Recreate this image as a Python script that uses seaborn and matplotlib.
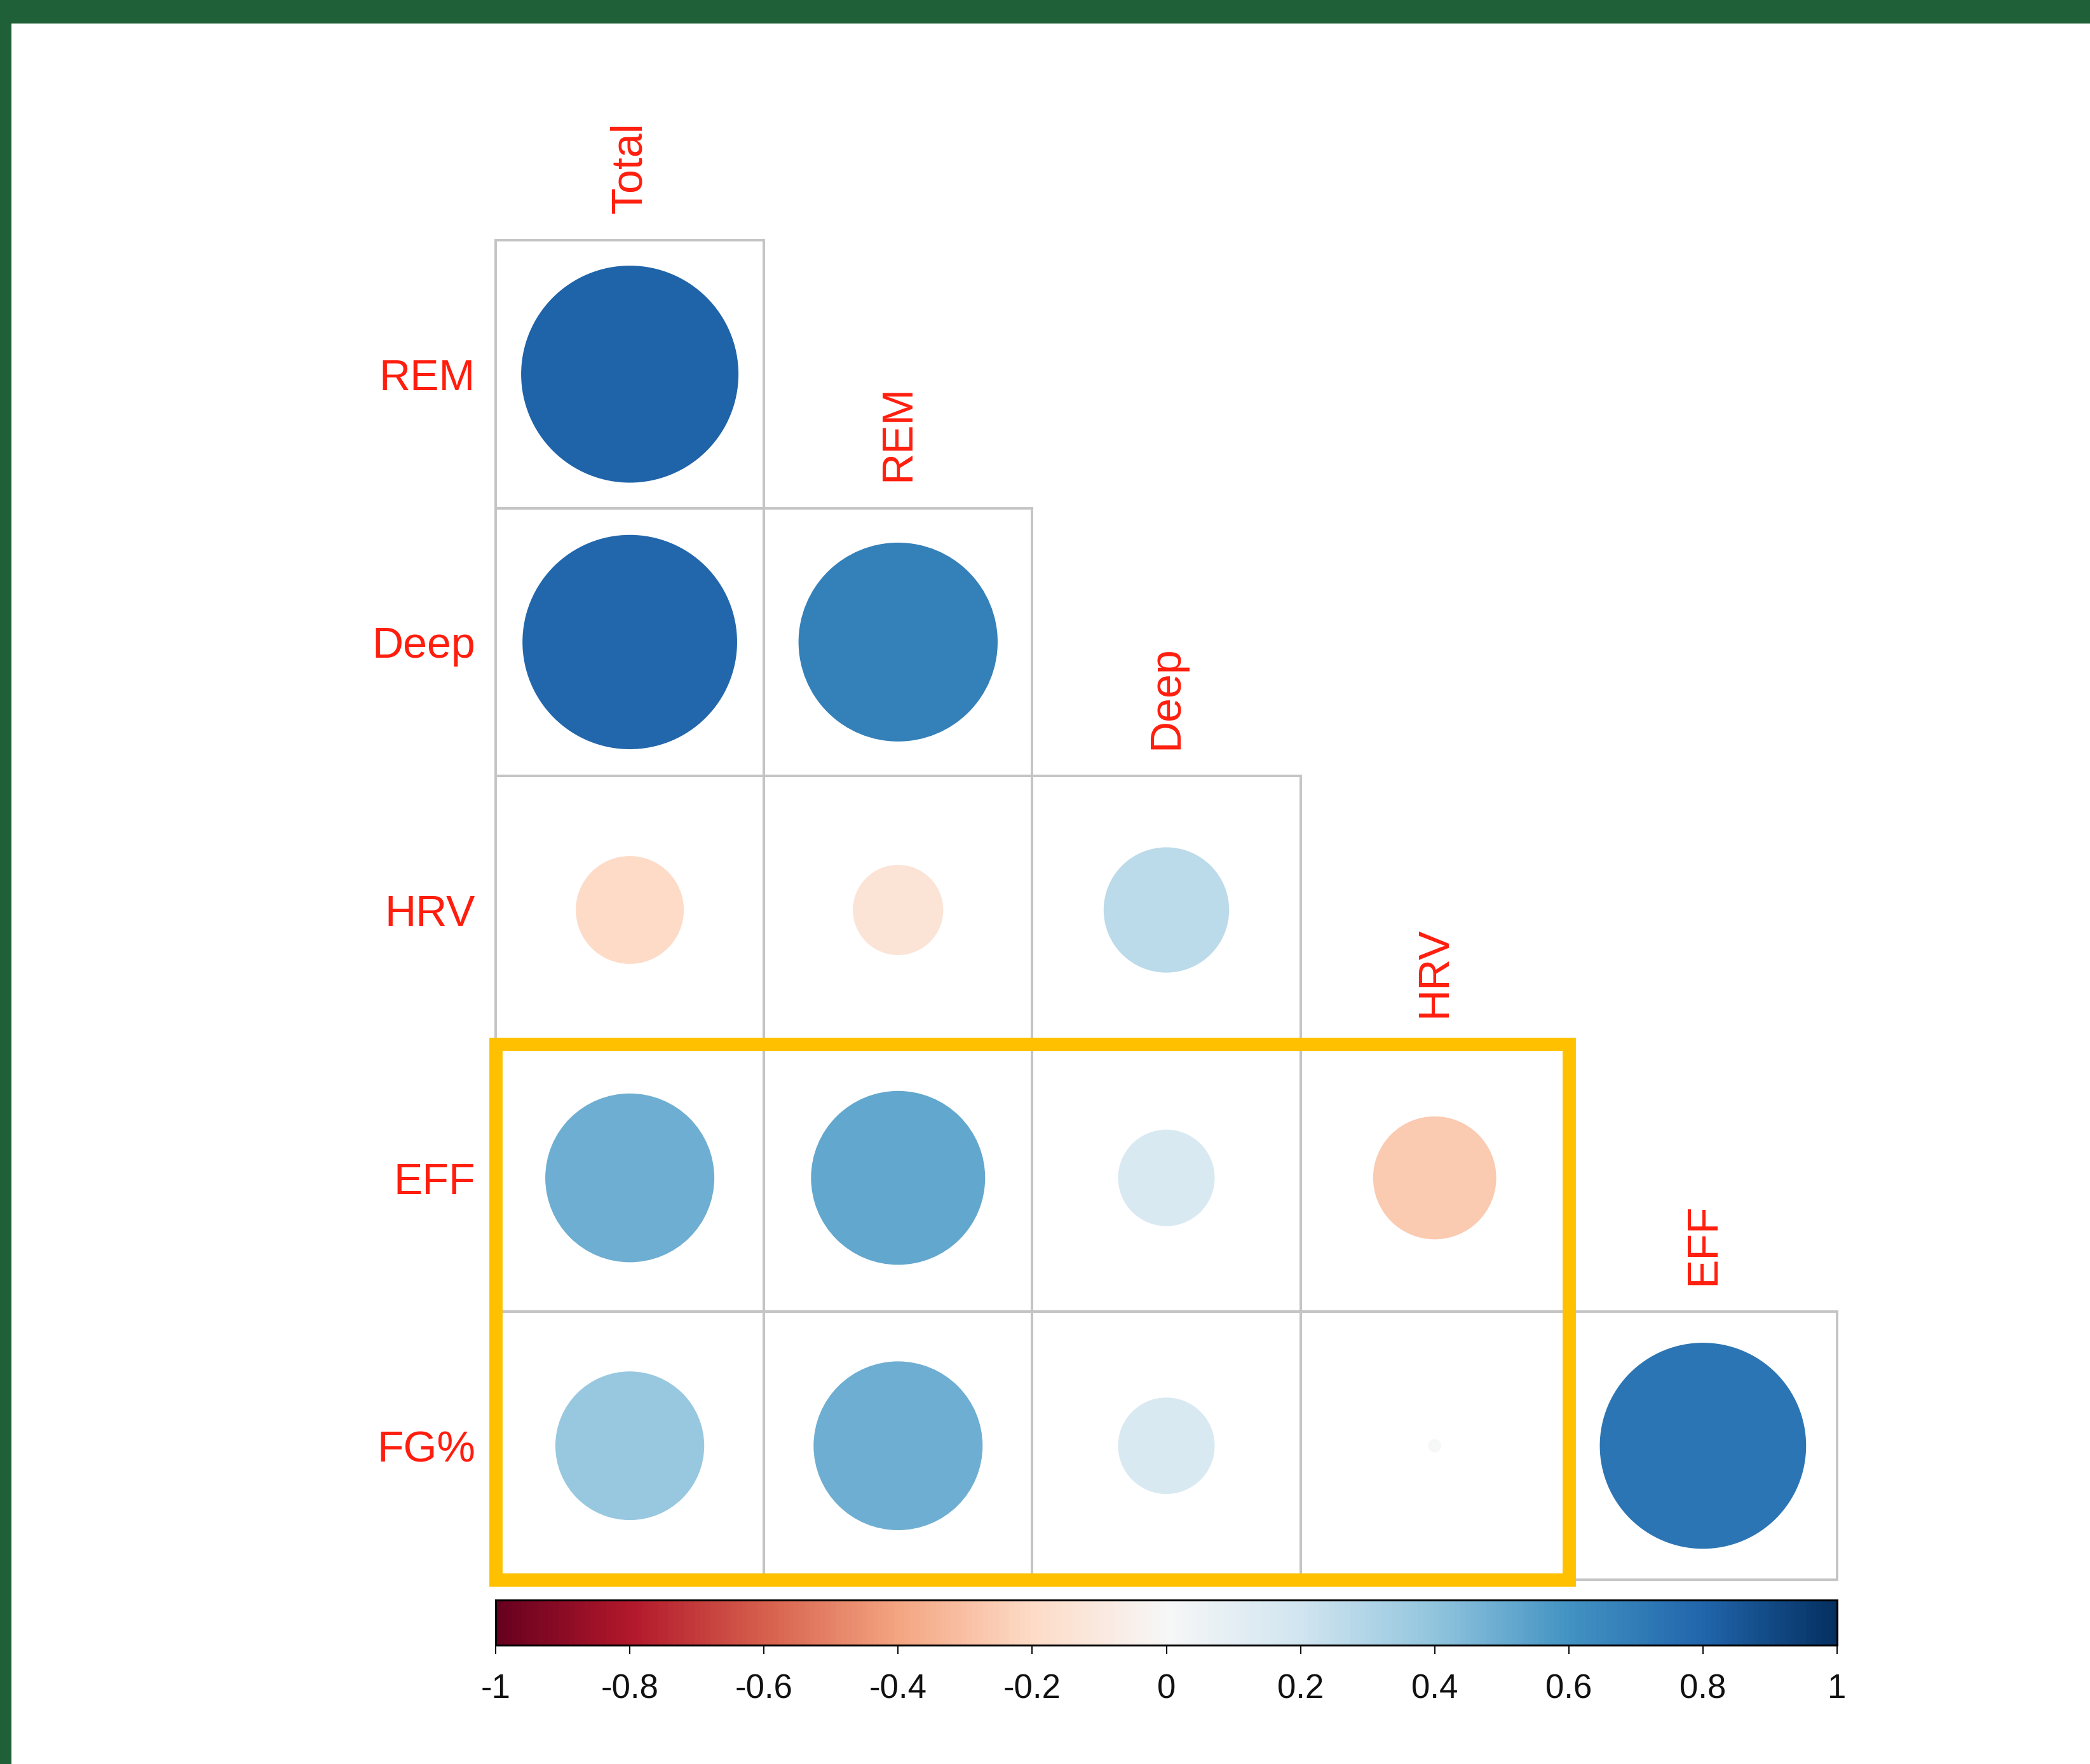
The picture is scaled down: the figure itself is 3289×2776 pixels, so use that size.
import numpy as np
import pandas as pd
import matplotlib
matplotlib.use("Agg")
import matplotlib.pyplot as plt
from matplotlib.colors import ListedColormap, Normalize
from matplotlib.patches import Circle, Rectangle
import seaborn as sns

# ---- data ----
row_labels = ["REM", "Deep", "HRV", "EFF", "FG%"]
col_labels = ["Total", "REM", "Deep", "HRV", "EFF"]
r_rem = [0.81, np.nan, np.nan, np.nan, np.nan]
r_deep = [0.79, 0.68, np.nan, np.nan, np.nan]
r_hrv = [-0.20, -0.14, 0.27, np.nan, np.nan]
r_eff = [0.49, 0.52, 0.16, -0.26, np.nan]
r_fg = [0.38, 0.49, 0.16, 0.003, 0.73]
cbar_ticks = [-1, -0.8, -0.6, -0.4, -0.2, 0, 0.2, 0.4, 0.6, 0.8, 1]
cbar_ticklabels = ["-1", "-0.8", "-0.6", "-0.4", "-0.2", "0", "0.2", "0.4", "0.6", "0.8", "1"]

corr = pd.DataFrame([r_rem, r_deep, r_hrv, r_eff, r_fg], index=row_labels, columns=col_labels)

sns.set_theme(style="white")
plt.rcParams["font.family"] = ["Liberation Sans", "DejaVu Sans"]

W, H = 3289, 2776
DPI = 100
fig = plt.figure(figsize=(W / DPI, H / DPI), dpi=DPI, facecolor="white")

def fx(px):
    return px / W

def fy(py):
    return 1 - py / H

# grid axes
gx0, gx1, gy0, gy1 = 780, 2891, 378, 2486
ax = fig.add_axes([fx(gx0), fy(gy1), fx(gx1 - gx0), (gy1 - gy0) / H])
mask = corr.isna()
sns.heatmap(corr.notna().astype(float), mask=mask, cmap=ListedColormap(["white"]), cbar=False,
            linewidths=0, ax=ax, xticklabels=False, yticklabels=False)
ax.set_xlim(0, 5)
ax.set_ylim(5, 0)

cmap = plt.get_cmap("RdBu")
norm = Normalize(-1, 1)
label_col = "#FF1E0E"

for i, rname in enumerate(row_labels):
    for j, cname in enumerate(col_labels):
        v = corr.loc[rname, cname]
        if np.isnan(v):
            continue
        ax.add_patch(Rectangle((j, i), 1, 1, fill=False, edgecolor="#C4C4C4",
                               linewidth=2.8, zorder=2, clip_on=False))
        rad = 0.45 * np.sqrt(abs(v))
        ax.add_patch(Circle((j + 0.5, i + 0.5), rad, facecolor=cmap(norm(v)),
                            edgecolor="none", zorder=3))

# row labels
ax.set_yticks(np.arange(5) + 0.5)
ax.set_yticklabels(row_labels, rotation=0, color=label_col, fontsize=49)
ax.tick_params(axis="y", length=0, pad=23)
ax.set_xticks([])

# column labels (diagonal)
for j, cname in enumerate(col_labels):
    ax.text(j + 0.5, j - 0.10, cname, rotation=90, ha="center", va="bottom",
            color=label_col, fontsize=49, clip_on=False)

# highlight rectangle (rows EFF, FG%; columns Total..HRV)
ax.add_patch(Rectangle((0, 3), 4, 2, fill=False, edgecolor="#FFC000", linewidth=15,
                       zorder=5, clip_on=False, joinstyle="miter"))

for s in ax.spines.values():
    s.set_visible(False)

# colorbar
cax = fig.add_axes([fx(780), fy(2589), fx(2891 - 780), (2589 - 2518) / H])
sm = matplotlib.cm.ScalarMappable(norm=norm, cmap=cmap)
cb = fig.colorbar(sm, cax=cax, orientation="horizontal")
cb.set_ticks(cbar_ticks)
cb.set_ticklabels(cbar_ticklabels)
cb.outline.set_linewidth(2.2)
cb.outline.set_edgecolor("black")
cax.tick_params(axis="x", length=10, width=1.5, pad=22, labelsize=38, colors="#111111")

# green frame
fig.add_artist(Rectangle((0, fy(37)), 1, 37 / H, transform=fig.transFigure,
                         facecolor="#1F6038", edgecolor="none"))
fig.add_artist(Rectangle((0, 0), 18 / W, 1, transform=fig.transFigure,
                         facecolor="#1F6038", edgecolor="none"))

fig.savefig("out.png", dpi=DPI, facecolor="white")
